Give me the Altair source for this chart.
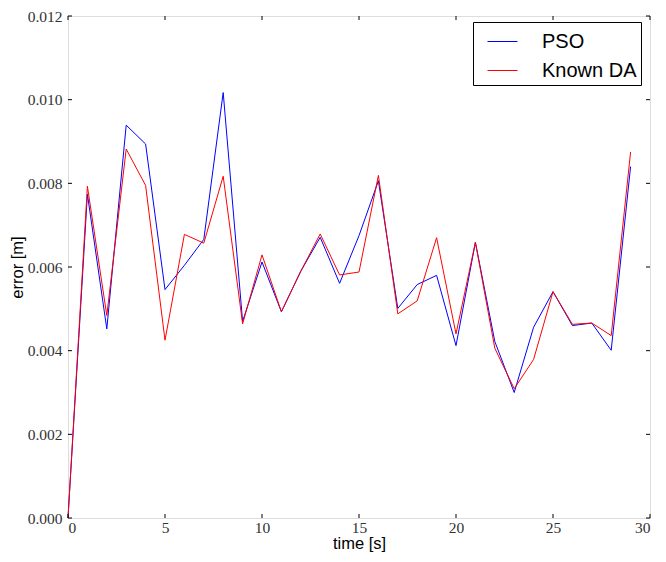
import altair as alt
import pandas as pd

time_s = list(range(30))
pso = [0.0, 0.00774, 0.00452, 0.00939, 0.00894, 0.00546, 0.00604, 0.00666, 0.01017, 0.00470,
       0.00612, 0.00493, 0.00590, 0.00671, 0.00561, 0.00675, 0.00806, 0.00501, 0.00558, 0.00580,
       0.00412, 0.00659, 0.00422, 0.00300, 0.00456, 0.00541, 0.00460, 0.00466, 0.00401, 0.00840]
known_da = [0.0, 0.00793, 0.00484, 0.00882, 0.00795, 0.00425, 0.00678, 0.00657, 0.00817, 0.00464,
            0.00629, 0.00493, 0.00590, 0.00679, 0.00581, 0.00588, 0.00819, 0.00488, 0.00519, 0.00670,
            0.00440, 0.00659, 0.00406, 0.00309, 0.00379, 0.00541, 0.00463, 0.00466, 0.00436, 0.00875]
series_names = ["PSO", "Known DA"]
series_colors = ["#0000ff", "#ff0000"]
x_ticks = [0, 5, 10, 15, 20, 25, 30]
y_ticks = [0.0, 0.002, 0.004, 0.006, 0.008, 0.010, 0.012]

W, H = 582, 502
TICK = 4

df = pd.DataFrame({
    "time": time_s * 2,
    "error": pso + known_da,
    "series": ["PSO"] * len(time_s) + ["Known DA"] * len(time_s),
})
xt = pd.DataFrame({"v": x_ticks})
yt = pd.DataFrame({"v": y_ticks})

xscale = alt.Scale(domain=[0, 30], nice=False, zero=False)
yscale = alt.Scale(domain=[0, 0.012], nice=False, zero=False)

tick_font = "Liberation Serif"
title_font = "Liberation Sans"

x_enc = alt.X("time:Q", scale=xscale, title="time [s]",
              axis=alt.Axis(values=x_ticks, format="d", domain=False, ticks=False, grid=False,
                            labelFont=tick_font, labelFontSize=15.5, labelColor="#333",
                            labelPadding=2, titleFont=title_font, titleFontSize=16.5,
                            titleFontWeight="normal", titleColor="black", titlePadding=0))
y_enc = alt.Y("error:Q", scale=yscale, title="error [m]",
              axis=alt.Axis(values=y_ticks, format=".3f", domain=False, ticks=False, grid=False,
                            labelFont=tick_font, labelFontSize=15.5, labelColor="#333",
                            labelPadding=6, titleFont=title_font, titleFontSize=16.5,
                            titleFontWeight="normal", titleColor="black", titlePadding=2))

color = alt.Color("series:N",
                  scale=alt.Scale(domain=series_names, range=series_colors),
                  legend=alt.Legend(title=None, orient="none", legendX=405, legendY=6,
                                    symbolType="stroke", symbolSize=900, symbolStrokeWidth=1,
                                    labelFont=title_font, labelFontSize=20, labelColor="black",
                                    labelOffset=24, symbolOffset=10, padding=4, rowPadding=3,
                                    strokeColor="black", fillColor="white", cornerRadius=0,
                                    labelLimit=300))

base = alt.Chart(df)
line_pso = base.transform_filter(alt.datum.series == "PSO").mark_line(strokeWidth=1).encode(
    x=x_enc, y=y_enc, color=color)
line_kda = base.transform_filter(alt.datum.series == "Known DA").mark_line(strokeWidth=1).encode(
    x=x_enc, y=y_enc, color=color)

rule = dict(color="black", strokeWidth=1)
bx = alt.Chart(xt).mark_rule(**rule).encode(
    x=alt.X("v:Q", scale=xscale), y=alt.value(H), y2=alt.value(H - TICK))
tx = alt.Chart(xt).mark_rule(**rule).encode(
    x=alt.X("v:Q", scale=xscale), y=alt.value(0), y2=alt.value(TICK))
ly = alt.Chart(yt).mark_rule(**rule).encode(
    y=alt.Y("v:Q", scale=yscale), x=alt.value(0), x2=alt.value(TICK))
ry = alt.Chart(yt).mark_rule(**rule).encode(
    y=alt.Y("v:Q", scale=yscale), x=alt.value(W), x2=alt.value(W - TICK))

chart = alt.layer(line_pso, line_kda, bx, tx, ly, ry).properties(
    width=W, height=H,
    autosize=alt.AutoSizeParams(type="none"),
    padding={"left": 60, "top": 8, "right": 8, "bottom": 34},
).configure_view(stroke="black", strokeWidth=1).configure(background="white")

chart.save("out.html", embed_options={"renderer": "svg", "actions": False})
